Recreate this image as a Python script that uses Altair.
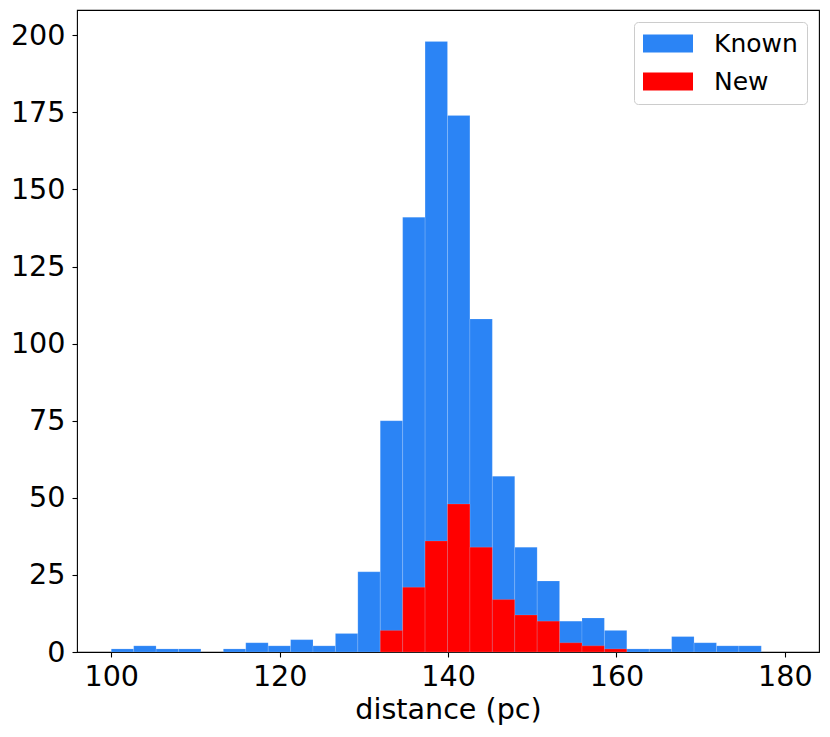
import altair as alt
import pandas as pd
import numpy as np

# Histogram bins (pc)
bin_start = 100.0
bin_width = 2.662
n_bins = 29

known_counts = [1, 2, 1, 1, 0, 1, 3, 2, 4, 2, 6, 26, 75, 141, 198, 174, 108, 57, 34, 23,
                10, 11, 7, 1, 1, 5, 3, 2, 2]
new_counts = [0, 0, 0, 0, 0, 0, 0, 0, 0, 0, 0, 0, 7, 21, 36, 48, 34, 17, 12, 10,
              3, 2, 1, 0, 0, 0, 0, 0, 0]
series_names = ["Known", "New"]
series_colors = ["#2B84F5", "#FF0000"]
x_ticks = [100, 120, 140, 160, 180]
y_ticks = [0, 25, 50, 75, 100, 125, 150, 175, 200]

edges = bin_start + bin_width * np.arange(n_bins + 1)
rows = []
for name, counts in zip(series_names, [known_counts, new_counts]):
    for i, c in enumerate(counts):
        if c > 0:
            rows.append({"series": name, "x0": edges[i], "x1": edges[i + 1], "count": c})
df = pd.DataFrame(rows)

FONT = "DejaVu Sans"
FS = 28.6

chart = alt.Chart(df).mark_bar(
    stroke="white", strokeOpacity=0.18, strokeWidth=0.8
).encode(
    x=alt.X("x0:Q",
            scale=alt.Scale(domain=[95.93, 184.05], nice=False, zero=False),
            axis=alt.Axis(values=x_ticks, title="distance (pc)", grid=False,
                          domain=False, tickSize=5, tickWidth=1.1, tickColor="black",
                          labelFontSize=FS, labelFont=FONT, labelColor="black",
                          labelPadding=5, titleFontSize=FS, titleFont=FONT,
                          titleFontWeight="normal", titleColor="black", titlePadding=5)),
    x2="x1:Q",
    y=alt.Y("count:Q", stack=None,
            scale=alt.Scale(domain=[0, 208.2], nice=False),
            axis=alt.Axis(values=y_ticks, title=None, grid=False, domain=False,
                          tickSize=5, tickWidth=1.1, tickColor="black",
                          labelFontSize=FS, labelFont=FONT, labelColor="black",
                          labelPadding=7)),
    y2=alt.datum(0),
    color=alt.Color("series:N",
                    scale=alt.Scale(domain=series_names, range=series_colors),
                    legend=alt.Legend(title=None, orient="top-right", offset=12,
                                      symbolType="M-1,-0.36H1V0.36H-1Z",
                                      symbolSize=2500, symbolStrokeWidth=0,
                                      symbolOpacity=1, clipHeight=25,
                                      labelFontSize=25, labelFont=FONT,
                                      labelColor="black", labelOffset=21,
                                      padding=9, rowPadding=12,
                                      strokeColor="#cccccc", fillColor="white",
                                      cornerRadius=4)),
).properties(
    width=742, height=642,
    autosize=alt.AutoSizeParams(type="none"),
    padding={"left": 69, "top": 2, "right": 3, "bottom": 80},
).configure_view(
    stroke="black", strokeWidth=1.1
)

chart.save("out.html", embed_options={"renderer": "svg", "actions": False})
